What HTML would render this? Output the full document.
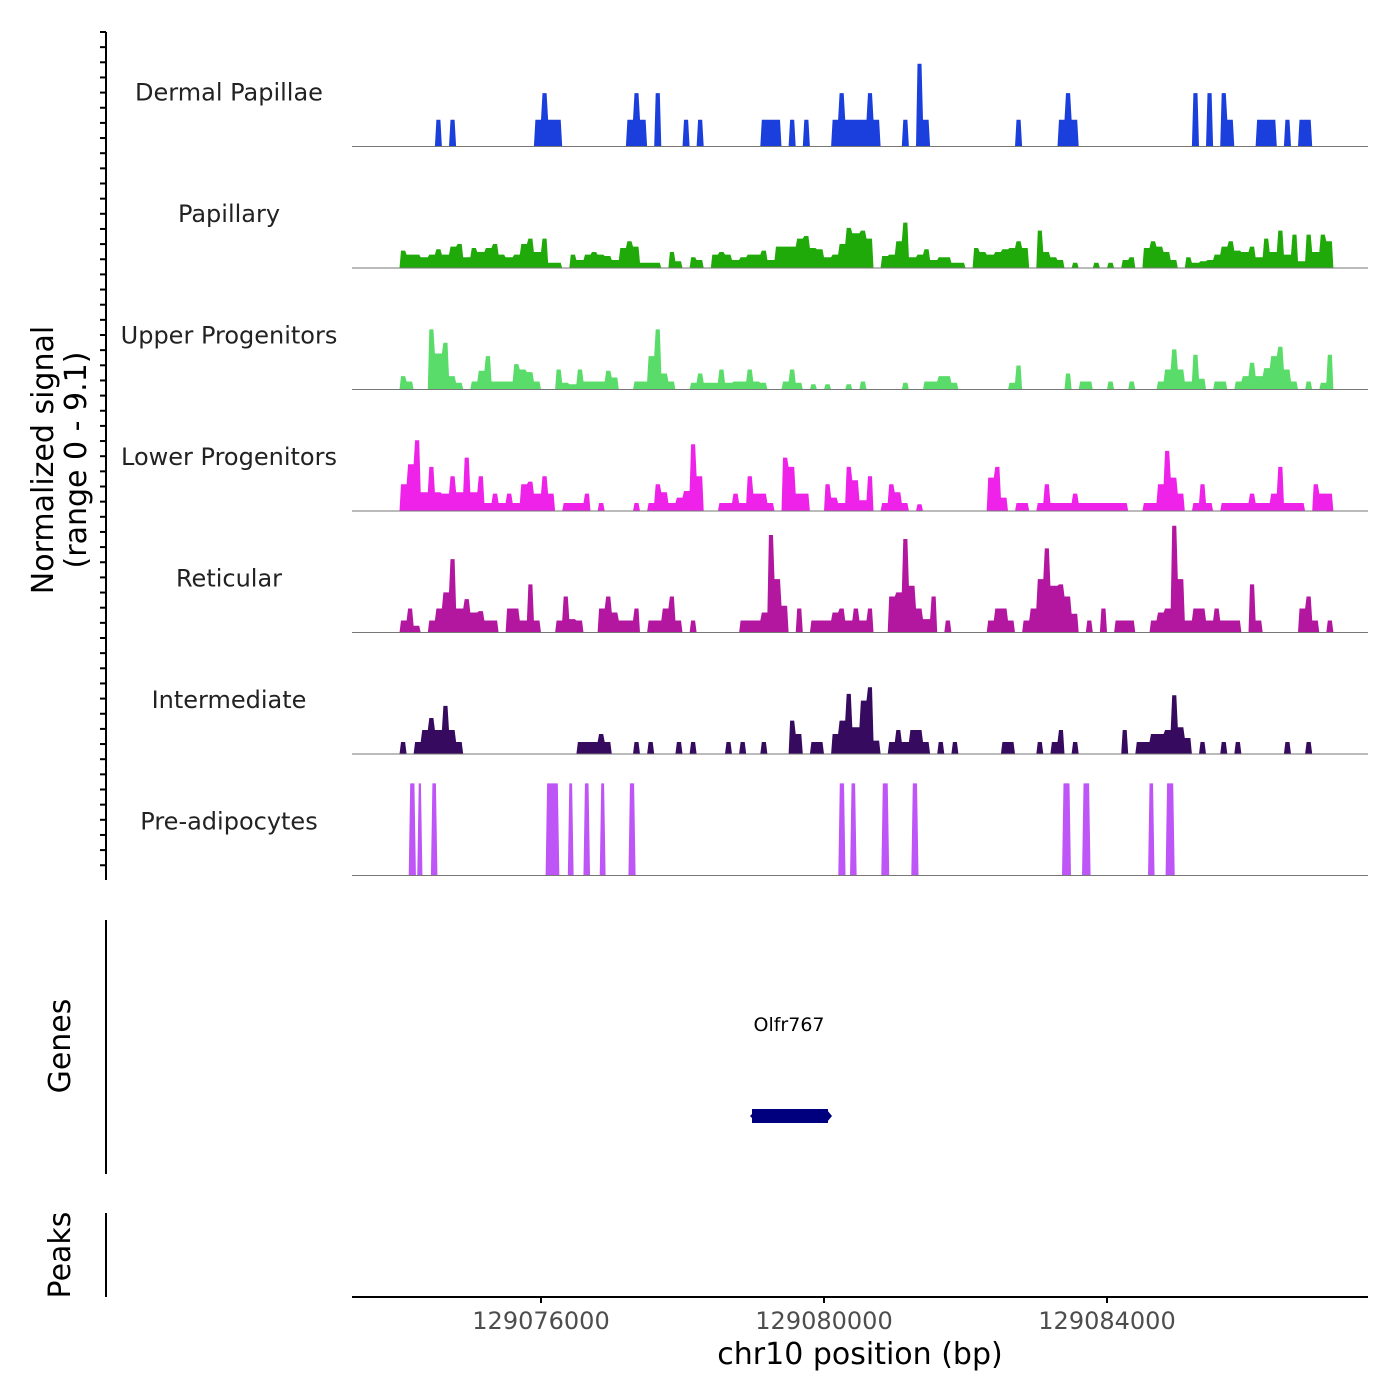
<!DOCTYPE html>
<html><head><meta charset="utf-8"><style>
body{margin:0;background:#fff;}
svg{display:block;font-family:"DejaVu Sans","Liberation Sans",sans-serif;}
</style></head><body>
<svg id="chart" width="1400" height="1400" viewBox="0 0 1400 1400" xmlns="http://www.w3.org/2000/svg"></svg>
<script>
const trackNames = ["Dermal Papillae","Papillary","Upper Progenitors","Lower Progenitors","Reticular","Intermediate","Pre-adipocytes"];
const trackColors = ["#1a3fdc","#1faa0a","#5adc6a","#ef22ea","#b3179f","#360a5e","#be55f7"];
const binStart = 129074000;
const binSize = 100;
const xTicks = [129076000,129080000,129084000];
const xTickLabels = ["129076000","129080000","129084000"];
const sparse = (pairs)=>{const a=new Array(132).fill(0);pairs.forEach(p=>a[p[0]]=p[1]);return a;};
const dermal = sparse([[5,2],[7,2],[19,2],[20,4],[21,2],[22,2],[32,2],[33,4],[34,2],[36,4],[40,2],[42,2],[51,2],[52,2],[53,2],[55,2],[57,2],[61,2],[62,4],[63,2],[64,2],[65,2],[66,4],[67,2],[71,2],[73,6.2],[74,2],[87,2],[93,2],[94,4],[95,2],[112,4],[114,4],[116,4],[117,2],[121,2],[122,2],[123,2],[125,2],[127,2],[128,2]]);
const papillary = [1.3,1.0,1.0,0.8,1.0,1.4,1.0,1.6,1.8,0.8,1.5,1.2,1.5,1.8,1.0,0.8,1.0,1.8,2.2,1.2,2.2,0.4,0.4,0,1.0,0.6,1.0,1.2,1.0,0.9,0.6,1.5,2.0,1.6,0.4,0.4,0.4,0,1.2,0.5,0,0.8,0.6,0,1.0,1.2,1.0,0.6,0.8,1.0,1.0,1.3,0.6,1.6,1.6,1.6,2.2,2.4,1.5,1.4,0.8,1.0,1.8,3.0,2.6,2.8,2.2,0,0.9,1.0,2.0,3.4,0.8,1.0,1.4,0.6,0.8,0.8,0.4,0.4,0,1.5,1.2,1.0,1.2,1.4,1.5,2.0,1.5,0,2.8,1.2,0.8,0.6,0,0.4,0,0,0.4,0,0.4,0,0.6,0.8,0,1.5,2.0,1.6,1.2,0.6,0,0.8,0.4,0.5,0.6,1.0,1.6,2.0,1.3,1.2,1.6,0.8,2.2,1.2,2.8,1.0,2.5,0.5,2.5,1.2,2.5,2.0];
const upper = sparse([[0,1.0],[1,0.6],[4,4.5],[5,2.7],[6,3.5],[7,1.0],[8,0.5],[10,0.6],[11,1.4],[12,2.5],[13,0.6],[14,0.6],[15,0.6],[16,1.9],[17,1.5],[18,1.3],[19,0.6],[22,1.5],[23,0.5],[24,0.4],[25,1.5],[26,0.6],[27,0.6],[28,0.6],[29,1.4],[30,0.9],[33,0.6],[34,0.6],[35,2.5],[36,4.5],[37,1.2],[38,0.6],[41,0.5],[42,1.2],[43,0.5],[44,0.5],[45,1.5],[46,0.5],[47,0.6],[48,0.6],[49,1.5],[50,0.6],[51,0.5],[54,0.6],[55,1.5],[56,0.5],[58,0.4],[60,0.4],[63,0.4],[65,0.6],[71,0.5],[74,0.6],[75,0.6],[76,1.0],[77,1.0],[78,0.5],[86,0.5],[87,1.8],[94,1.2],[96,0.6],[97,0.6],[100,0.6],[103,0.6],[107,0.6],[108,1.5],[109,3.0],[110,1.5],[111,0.6],[112,2.6],[113,0.8],[115,0.6],[116,0.6],[118,0.6],[119,1.0],[120,2.0],[121,1.0],[122,1.6],[123,2.5],[124,3.2],[125,1.5],[126,0.6],[128,0.6],[130,0.5],[131,2.6]]);
const lower = sparse([[0,2.0],[1,3.5],[2,5.3],[3,1.4],[4,3.3],[5,1.4],[6,1.3],[7,2.6],[8,1.4],[9,4.0],[10,1.4],[11,2.6],[12,0.6],[13,1.3],[14,0.6],[15,1.3],[16,0.6],[17,2.0],[18,2.2],[19,1.3],[20,2.6],[21,1.3],[23,0.6],[24,0.6],[25,0.6],[26,1.3],[28,0.6],[33,0.6],[35,0.6],[36,2.0],[37,1.4],[38,0.6],[39,1.0],[40,1.5],[41,5.0],[42,2.6],[45,0.6],[46,0.6],[47,1.3],[48,0.6],[49,2.6],[50,1.3],[51,1.3],[52,0.6],[54,4.0],[55,3.3],[56,1.3],[57,1.3],[60,2.0],[61,1.0],[62,0.6],[63,3.3],[64,2.3],[65,0.8],[66,2.6],[68,0.6],[69,2.0],[70,1.4],[71,0.6],[73,0.5],[83,2.5],[84,3.3],[85,1.0],[87,0.6],[88,0.6],[90,0.6],[91,2.0],[92,0.6],[93,0.6],[94,0.6],[95,1.3],[96,0.6],[97,0.6],[98,0.6],[99,0.6],[100,0.6],[101,0.6],[102,0.6],[105,0.6],[106,0.6],[107,2.0],[108,4.5],[109,2.5],[110,1.3],[112,0.6],[113,2.0],[114,0.6],[116,0.6],[117,0.6],[118,0.6],[119,0.6],[120,1.3],[121,0.6],[122,0.6],[123,1.3],[124,3.3],[125,0.6],[126,0.6],[127,0.6],[129,2.0],[130,1.3],[131,1.3]]);
const reticular = sparse([[0,0.9],[1,1.8],[2,0.5],[4,0.9],[5,1.8],[6,3.0],[7,5.5],[8,1.8],[9,2.5],[10,1.5],[11,1.6],[12,0.9],[13,0.9],[15,1.8],[16,1.8],[17,0.9],[18,3.6],[19,0.9],[22,0.9],[23,2.7],[24,1.0],[25,0.9],[28,1.8],[29,2.7],[30,1.5],[31,0.9],[32,0.9],[33,1.8],[35,0.9],[36,0.9],[37,1.8],[38,2.7],[39,0.9],[41,0.9],[48,0.9],[49,0.9],[50,0.9],[51,1.5],[52,7.3],[53,4.0],[54,2.0],[56,1.8],[58,0.9],[59,0.9],[60,0.9],[61,1.5],[62,1.8],[63,0.9],[64,1.8],[65,0.9],[66,1.8],[69,2.7],[70,3.0],[71,7.0],[72,3.5],[73,1.8],[74,1.0],[75,2.7],[77,0.9],[83,0.9],[84,1.8],[85,1.8],[86,0.9],[88,0.9],[89,1.8],[90,4.0],[91,6.3],[92,3.5],[93,3.6],[94,2.7],[95,1.4],[97,0.9],[99,1.8],[101,0.9],[102,0.9],[103,0.9],[106,0.9],[107,1.5],[108,1.8],[109,8.0],[110,4.0],[111,0.9],[112,1.8],[113,1.8],[114,0.9],[115,1.8],[116,0.9],[117,0.9],[118,0.9],[120,3.6],[121,0.9],[127,1.8],[128,2.7],[129,0.9],[131,0.9]]);
const intermediate = sparse([[0,0.9],[2,0.9],[3,1.8],[4,2.7],[5,1.8],[6,3.6],[7,1.8],[8,0.9],[25,0.9],[26,0.9],[27,0.9],[28,1.5],[29,0.9],[33,0.9],[35,0.9],[39,0.9],[41,0.9],[46,0.9],[48,0.9],[51,0.9],[55,2.5],[56,1.5],[58,0.9],[59,0.9],[61,1.5],[62,2.5],[63,4.5],[64,2.0],[65,4.0],[66,5.0],[67,1.0],[69,0.9],[70,1.8],[71,0.9],[72,1.8],[73,1.8],[74,0.9],[76,0.9],[78,0.9],[85,0.9],[86,0.9],[90,0.9],[92,0.9],[93,1.8],[95,0.9],[102,1.8],[104,0.9],[105,0.9],[106,1.5],[107,1.5],[108,1.8],[109,4.4],[110,2.0],[111,1.2],[113,0.9],[116,0.9],[118,0.9],[125,0.9],[128,0.9]]);
const preStart = [129074130,129074251,129074444,129076065,129076379,129076600,129076830,129077236,129080202,129080368,129080810,129081234,129083364,129083647,129084580,129084828];
const preEnd   = [129074232,129074324,129074536,129076259,129076461,129076693,129076913,129077337,129080304,129080461,129080922,129081336,129083491,129083768,129084672,129084957];
const preValue = 6.9;
const series = [dermal,papillary,upper,lower,reticular,intermediate];

const NS="http://www.w3.org/2000/svg";
const svg=document.getElementById('chart');
function el(t,a,p){const e=document.createElementNS(NS,t);for(const k in a)e.setAttribute(k,a[k]);(p||svg).appendChild(e);return e;}
const xScale = bp => 541 + (bp-129076000)*283/4000;
const trackH = 121.5, firstBase = 146.5;
const yScale = (v,k) => firstBase + k*trackH - v*trackH/9.1;

trackNames.forEach((name,k)=>{
  const g=el('g',{});
  
  
  const base=yScale(0,k);
  if(k<6){
    const vals=series[k];
    let d='';
    let i=0;
    while(i<vals.length){
      if(vals[i]>0){
        let pts=[];
        pts.push([xScale(binStart+i*binSize),base]);
        while(i<vals.length && vals[i]>0){
          const x0=xScale(binStart+i*binSize), x1=xScale(binStart+(i+1)*binSize);
          const prev = i>0?vals[i-1]:0, next = i<vals.length-1?vals[i+1]:0;
          const yv=yScale(vals[i],k);
          pts.push([x0+(prev<vals[i]?1.5:0),yv]);
          pts.push([x1-(next<vals[i]?1.5:0),yv]);
          i++;
        }
        pts.push([xScale(binStart+i*binSize),base]);
        d+='M'+pts.map(p=>p[0].toFixed(1)+','+p[1].toFixed(1)).join('L')+'Z';
      } else i++;
    }
    const p=el('path',{d:d,fill:trackColors[k]},g);
    
    
  } else {
    preStart.forEach((s,j)=>{
      const x0=xScale(s), x1=xScale(preEnd[j]), yt=yScale(preValue,k);
      const p=el('polygon',{points:`${x0},${base} ${x0+1.5},${yt} ${x1-1.5},${yt} ${x1},${base}`,fill:trackColors[k]},g);
      
      
    });
  }
  const ln=el('line',{x1:352,x2:1368,y1:base,y2:base,stroke:'#777','stroke-width':1},g);
  
  
  const t=el('text',{x:229,y:base-46,'text-anchor':'middle','font-size':24,fill:'#222'},g);
  t.textContent=name;
  
  
});

const ax=el('line',{x1:106,x2:106,y1:32,y2:880,stroke:'#000','stroke-width':2});


for(let y=32;y<=880;y+=15.15){
  const tk=el('line',{x1:100,x2:106,y1:y,y2:y,stroke:'#000','stroke-width':2});
  
  
}
const yt=el('text',{transform:'translate(53,460) rotate(-90)','text-anchor':'middle','font-size':30,fill:'#000'});
yt.textContent='Normalized signal';


const yt2=el('text',{transform:'translate(86,460) rotate(-90)','text-anchor':'middle','font-size':30,fill:'#000'});
yt2.textContent='(range 0 - 9.1)';



const ga=el('line',{x1:106,x2:106,y1:920,y2:1174,stroke:'#000','stroke-width':2});


const gl=el('text',{transform:'translate(70,1046) rotate(-90)','text-anchor':'middle','font-size':30,fill:'#000'});
gl.textContent='Genes';


const gn=el('text',{x:789,y:1031,'text-anchor':'middle','font-size':19,fill:'#000'});
gn.textContent='Olfr767';


const gb=el('path',{d:'M752,1109 L828,1109 L828,1123 L752,1123 Z M750,1116 L756,1110 L756,1122 Z M827,1110 L832,1116 L827,1122 Z',fill:'#00007f'});



const pa=el('line',{x1:106,x2:106,y1:1213,y2:1297,stroke:'#000','stroke-width':2});


const pl=el('text',{transform:'translate(70,1255) rotate(-90)','text-anchor':'middle','font-size':30,fill:'#000'});
pl.textContent='Peaks';



const xa=el('line',{x1:352,x2:1368,y1:1297,y2:1297,stroke:'#000','stroke-width':2});


xTicks.forEach((v,i)=>{
  const x=xScale(v);
  const tk=el('line',{x1:x,x2:x,y1:1297,y2:1303,stroke:'#000','stroke-width':2});
  
  
  const t=el('text',{x:x,y:1329,'text-anchor':'middle','font-size':24,fill:'#4d4d4d'});
  t.textContent=xTickLabels[i];
  
  
});
const xt=el('text',{x:860,y:1364,'text-anchor':'middle','font-size':30,fill:'#000'});
xt.textContent='chr10 position (bp)';


</script>
</body></html>
